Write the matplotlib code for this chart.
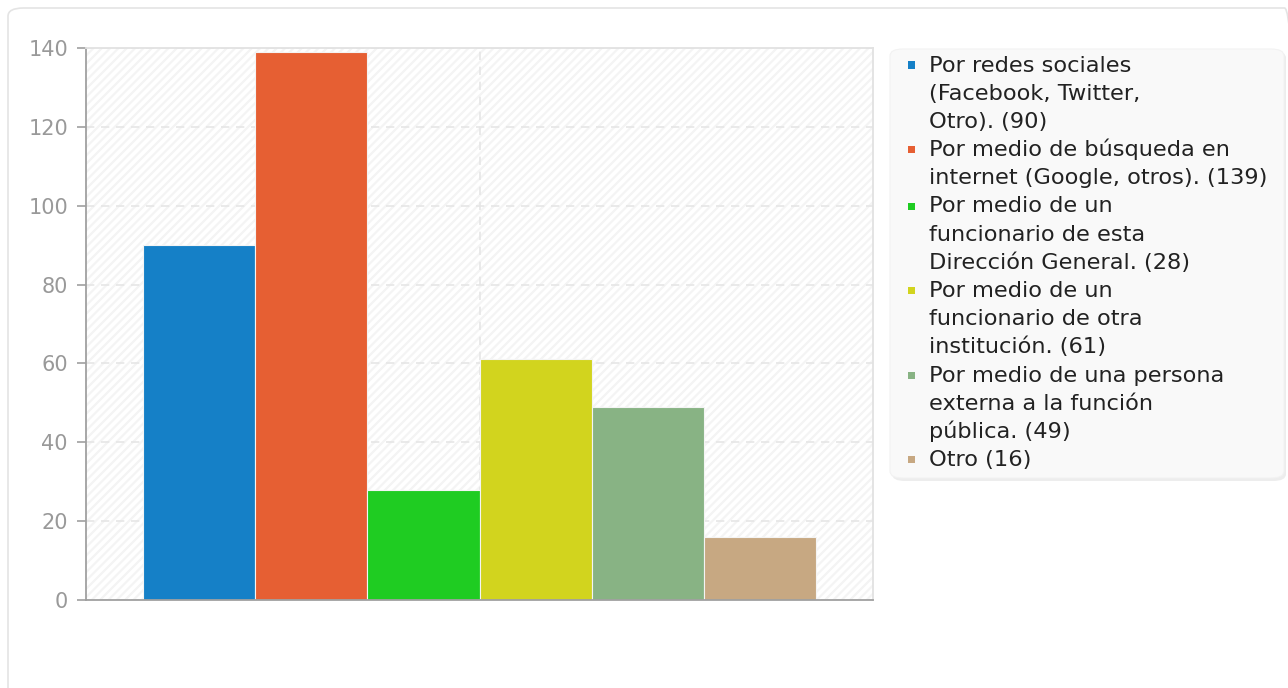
import matplotlib.pyplot as plt
from matplotlib.patches import FancyBboxPatch, Rectangle

# -------------------------------------------------
# Datos
# -------------------------------------------------
etiquetas = [
    "Por redes sociales\n(Facebook, Twitter,\nOtro). (90)",
    "Por medio de búsqueda en\ninternet (Google, otros). (139)",
    "Por medio de un\nfuncionario de esta\nDirección General. (28)",
    "Por medio de un\nfuncionario de otra\ninstitución. (61)",
    "Por medio de una persona\nexterna a la función\npública. (49)",
    "Otro (16)",
]
valores = [90, 139, 28, 61, 49, 16]
colores = ["#1580C7", "#E65F33", "#1FCC22", "#D2D41E", "#88B384", "#C7A882"]
y_ticks = [0, 20, 40, 60, 80, 100, 120, 140]

W, H = 1288, 688


def fx(px):
    return px / W


def fy(py):
    return 1 - py / H


fig = plt.figure(figsize=(W / 100, H / 100), dpi=100)
fig.patch.set_facecolor("white")

# marco exterior redondeado
marco = FancyBboxPatch((fx(8), fy(700)), fx(1300 - 8), (700 - 8) / H,
                       boxstyle="round,pad=0,rounding_size=0.012",
                       transform=fig.transFigure, facecolor="none",
                       edgecolor="#e4e4e4", lw=1.2, zorder=-1)
fig.patches.append(marco)

ax = fig.add_axes([fx(86), fy(600), fx(873 - 86), (600 - 48) / H])
ax.set_facecolor("white")

# fondo rayado
plt.rcParams["hatch.linewidth"] = 1.6
fondo = Rectangle((0, 0), 1, 1, transform=ax.transAxes, facecolor="white",
                  edgecolor="#f4f4f4", hatch="////", lw=0, zorder=0)
ax.add_patch(fondo)

pos = list(range(len(valores)))
ax.bar(pos, valores, width=1.0, color=colores, edgecolor="#f4f4f4",
       linewidth=0.8, zorder=3)

margen = 0.508
ax.set_xlim(-0.5 - margen, len(valores) - 0.5 + margen)
ax.set_ylim(0, 140)
ax.set_yticks(y_ticks)
ax.set_xticks([(len(valores) - 1) / 2])
ax.set_xticklabels([])
ax.tick_params(axis="x", length=0)
ax.tick_params(axis="y", length=6.5, width=1.2, color="#a0a0a0",
               labelcolor="#999999", labelsize=15, pad=6.5)

ax.grid(True, color="#e6e6e6", linestyle=(0, (5, 4)), linewidth=1.2, zorder=1)

for lado in ["left", "bottom"]:
    ax.spines[lado].set_color("#a0a0a0")
    ax.spines[lado].set_linewidth(1.3)
for lado in ["top", "right"]:
    ax.spines[lado].set_color("#e2e2e2")
    ax.spines[lado].set_linewidth(1.3)
ax.spines["bottom"].set_zorder(4)

# -------------------------------------------------
# Leyenda manual
# -------------------------------------------------
sombra = FancyBboxPatch((fx(892), fy(481)), fx(1286 - 892), (481 - 51) / H,
                        boxstyle="round,pad=0,rounding_size=0.01",
                        transform=fig.transFigure, facecolor="#ededed",
                        edgecolor="none", zorder=1)
caja = FancyBboxPatch((fx(890), fy(478)), fx(1284 - 890), (478 - 49) / H,
                      boxstyle="round,pad=0,rounding_size=0.01",
                      transform=fig.transFigure, facecolor="#f9f9f9",
                      edgecolor="#f2f2f2", lw=0.8, zorder=2)
fig.patches.extend([sombra, caja])

paso = 28.2
linea = 0
for etiqueta, color in zip(etiquetas, colores):
    y0 = 71.5 + linea * paso
    fig.patches.append(Rectangle((fx(908), fy(y0 - 3)), fx(7), 7 / H,
                                 transform=fig.transFigure, facecolor=color,
                                 edgecolor="none", zorder=3))
    for texto in etiqueta.split("\n"):
        fig.text(fx(929), fy(71.5 + linea * paso), texto, fontsize=16.2,
                 color="#222222", va="baseline", ha="left", zorder=4)
        linea += 1

fig.savefig("out.png", dpi=100)
